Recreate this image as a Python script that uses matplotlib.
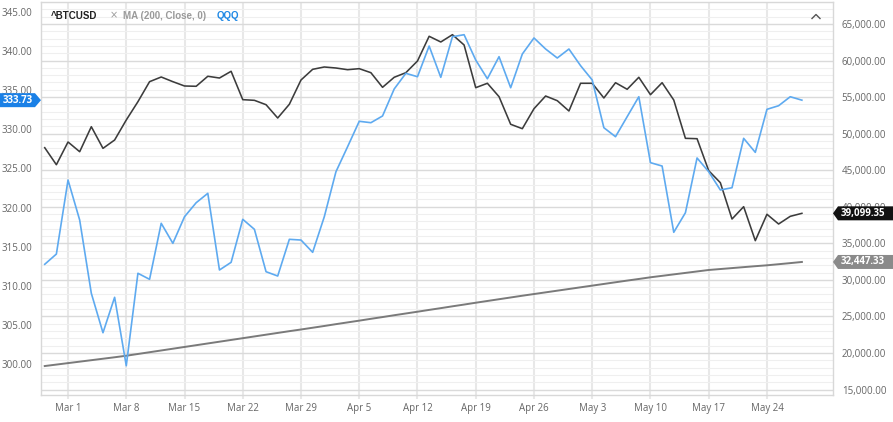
import matplotlib
matplotlib.use('Agg')
import matplotlib.pyplot as plt
import numpy as np
import pandas as pd
from matplotlib.patches import Polygon
from matplotlib.lines import Line2D
from matplotlib.transforms import IdentityTransform
from matplotlib.ticker import MultipleLocator, FuncFormatter

plt.rcParams['font.family'] = ['Open Sans', 'DejaVu Sans']

# ---- data ----
dates = pd.bdate_range('2021-02-25', '2021-05-27')

btc = [48080, 45750, 48860, 47530, 50950, 47990, 49130, 51870, 54370, 57110,
       57750, 57110, 56520, 56480, 57850, 57610, 58530, 54650, 54560, 53960,
       52140, 54020, 57340, 58800, 59120, 58980, 58750, 58890, 58340, 56340,
       57710, 58340, 59940, 63320, 62540, 63540, 62130, 56290, 56890, 55060,
       51280, 50680, 53410, 55150, 54510, 53100, 56890, 56890, 54880, 56970,
       56070, 57710, 55330, 56970, 54600, 49360, 49310, 44930, 43290, 38320,
       40010, 35360, 38970, 37640, 38690, 39099.35]

qqq = [312.75, 314.06, 323.52, 318.41, 309.04, 304.00, 308.53, 299.78, 311.60, 310.83,
       317.99, 315.43, 318.83, 320.62, 321.82, 312.02, 313.00, 318.50, 317.22, 311.80,
       311.25, 315.94, 315.85, 314.28, 318.83, 324.58, 327.78, 331.03, 330.85, 331.71,
       335.16, 337.16, 336.73, 340.65, 336.65, 341.84, 342.10, 338.86, 336.47, 339.29,
       335.32, 339.63, 341.68, 340.27, 339.12, 340.27, 338.14, 336.31, 330.21, 329.06,
       331.62, 334.17, 325.74, 325.31, 316.84, 319.34, 326.34, 324.58, 322.25, 322.54,
       328.85, 327.06, 332.56, 333.02, 334.17, 333.73]

ma200 = [18210, 18410, 18610, 18810, 19010, 19210, 19410, 19620, 19860, 20100,
         20340, 20580, 20820, 21060, 21300, 21540, 21780, 22020, 22260, 22500,
         22740, 22980, 23210, 23450, 23690, 23940, 24180, 24420, 24670, 24910,
         25160, 25400, 25640, 25890, 26130, 26380, 26620, 26870, 27110, 27350,
         27590, 27830, 28060, 28290, 28520, 28750, 28980, 29210, 29440, 29670,
         29900, 30120, 30350, 30550, 30750, 30950, 31150, 31350, 31480, 31610,
         31740, 31870, 31990, 32140, 32290, 32447.33]

tick_dates = ['2021-03-01', '2021-03-08', '2021-03-15', '2021-03-22', '2021-03-29',
              '2021-04-05', '2021-04-12', '2021-04-19', '2021-04-26', '2021-05-03',
              '2021-05-10', '2021-05-17', '2021-05-24']
tick_labels = ['Mar 1', 'Mar 8', 'Mar 15', 'Mar 22', 'Mar 29', 'Apr 5', 'Apr 12',
               'Apr 19', 'Apr 26', 'May 3', 'May 10', 'May 17', 'May 24']

left_ticks = [300, 305, 310, 315, 320, 325, 330, 335, 340, 345]
right_ticks = [15000, 20000, 25000, 30000, 35000, 40000, 45000, 50000, 55000, 60000, 65000]

legend_items = ['^BTCUSD', '\u00d7', 'MA (200, Close, 0)', 'QQQ']

# ---- figure ----
W, H = 893, 422
fig = plt.figure(figsize=(W / 100, H / 100), dpi=100)
fig.patch.set_facecolor('white')
L, R, T, B = 41, 833, 2, 395
ax = fig.add_axes([L / W, (H - B) / H, (R - L) / W, (B - T) / H])
ax2 = ax.twinx()

x = np.arange(len(dates))
ax.plot(x, ma200, color='#7a7a7a', lw=1.4, zorder=3)
ax.plot(x, btc, color='#3c3c3c', lw=1.15, zorder=4)
ax2.plot(x, qqq, color='#5eaaf0', lw=1.2, zorder=5)

ax.set_xlim(-0.32, 67.67)
ax.set_ylim(14248, 68010)
ax2.set_ylim(296.04, 346.28)

pos = [int(np.where(dates == pd.Timestamp(d))[0][0]) for d in tick_dates]
ax.set_xticks(pos)
ax.set_xticklabels(tick_labels)

ax.yaxis.set_ticks_position('right')
ax.yaxis.set_label_position('right')
ax2.yaxis.set_ticks_position('left')
ax2.yaxis.set_label_position('left')

ax.set_yticks(right_ticks)
ax.yaxis.set_minor_locator(MultipleLocator(1000))
ax.yaxis.set_major_formatter(FuncFormatter(lambda v, p: f'{v:,.2f}'))
ax2.set_yticks(left_ticks)
ax2.yaxis.set_major_formatter(FuncFormatter(lambda v, p: f'{v:.2f}'))

ax.grid(axis='y', which='major', color='#dadada', lw=1.0)
ax.grid(axis='y', which='minor', color='#efefef', lw=0.8)
ax.grid(axis='x', which='major', color='#e8e8e8', lw=1.5)
ax.set_axisbelow(True)

ax.tick_params(axis='y', which='both', length=0, pad=6.3, labelsize=7, labelcolor='#666666')
ax2.tick_params(axis='y', which='both', length=0, pad=6.3, labelsize=7, labelcolor='#666666')
ax.tick_params(axis='x', length=3, width=1.5, color='#e8e8e8', pad=2.5, labelsize=7,
               labelcolor='#666666')

for s in ax.spines.values():
    s.set_color('#d8d8d8')
    s.set_linewidth(1.0)
for s in ax2.spines.values():
    s.set_visible(False)

# ---- legend text ----
ly = (H - 15.7) / H
fig.text(50.7 / W, ly, legend_items[0], family=['Liberation Sans'], weight='bold',
         fontsize=7, color='#222222', va='center')
fig.text(110 / W, ly, legend_items[1], family=['DejaVu Sans'], fontsize=7,
         color='#9a9a9a', va='center')
fig.text(123 / W, ly, legend_items[2], family=['Liberation Sans'], weight='bold',
         fontsize=7, color='#9a9a9a', va='center')
fig.text(217 / W, ly, legend_items[3], family=['Liberation Sans'], weight='bold',
         fontsize=7, color='#1e88e5', va='center')

# caret at top right
fig.add_artist(Line2D([812, 816, 820], [H - 18.5, H - 14.5, H - 18.5],
                      transform=IdentityTransform(), color='#555555', lw=1.0))

# ---- price tags ----
fig.canvas.draw()


def tag(axis, yval, text, color, side):
    _, yd = axis.transData.transform((0, yval))
    h = 7
    if side == 'left':
        xs = [0, 35, 41, 35, 0]
        tx = 18
    else:
        xs = [893, 838, 833, 838, 893]
        tx = 863
    ys = [yd - h, yd - h, yd, yd + h, yd + h]
    fig.add_artist(Polygon(list(zip(xs, ys)), closed=True, transform=IdentityTransform(),
                           facecolor=color, edgecolor='none', zorder=20))
    fig.text(tx / W, yd / H, text, color='white', weight='bold', fontsize=7,
             ha='center', va='center', zorder=21)


tag(ax2, qqq[-1], f'{qqq[-1]:.2f}', '#1a80e6', 'left')
tag(ax, btc[-1], f'{btc[-1]:,.2f}', '#111111', 'right')
tag(ax, ma200[-1], f'{ma200[-1]:,.2f}', '#8a8a8a', 'right')

fig.savefig('out.png', dpi=100)
